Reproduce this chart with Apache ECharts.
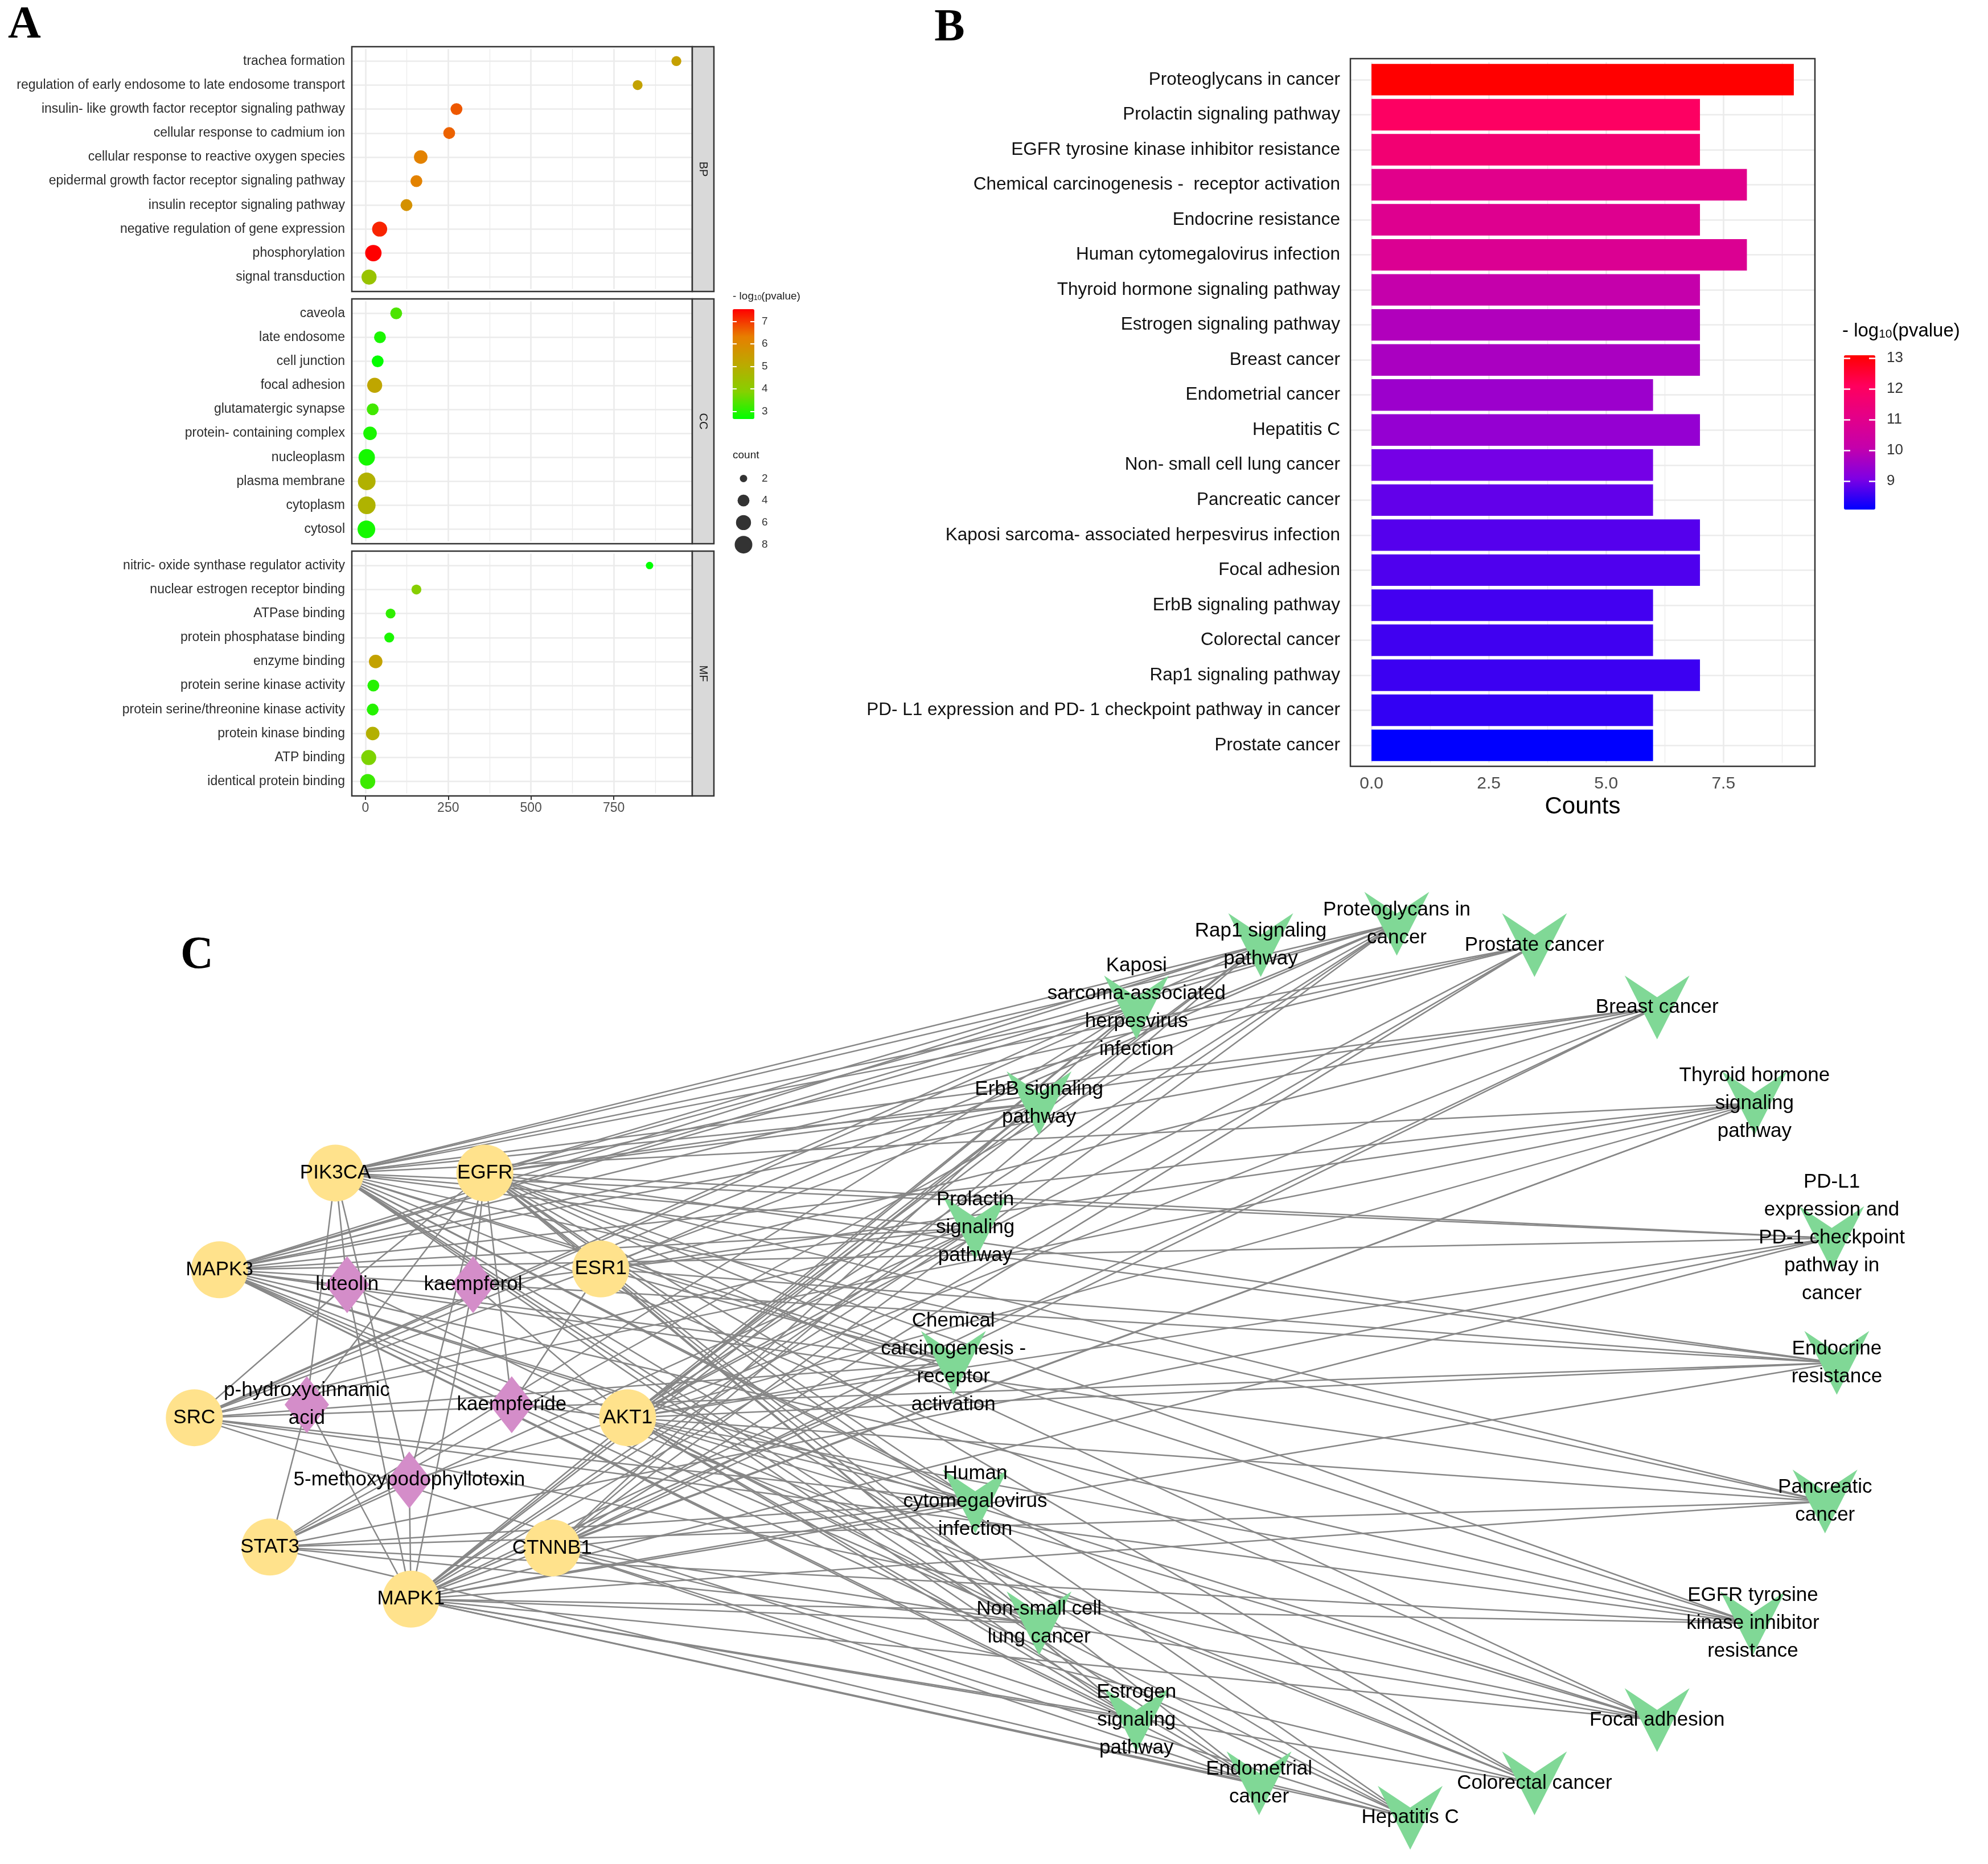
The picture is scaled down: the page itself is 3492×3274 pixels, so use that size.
<!DOCTYPE html>
<html><head><meta charset="utf-8">
<script src="https://cdn.jsdelivr.net/npm/echarts@6/dist/echarts.min.js"></script>
<style>html,body{margin:0;padding:0;background:#fff}#c{width:3492px;height:3274px}</style>
</head><body><div id="c"></div>
<script>
// ---------------- Panel A: GO enrichment ----------------
const bpTerms = ['trachea formation','regulation of early endosome to late endosome transport','insulin- like growth factor receptor signaling pathway','cellular response to cadmium ion','cellular response to reactive oxygen species','epidermal growth factor receptor signaling pathway','insulin receptor signaling pathway','negative regulation of gene expression','phosphorylation','signal transduction'];
const bpFold  = [939, 822, 275, 253, 167, 154, 124, 43, 24, 11];
const bpCount = [3, 3, 4, 4, 5, 4, 4, 6, 7, 6];
const bpLogP  = [5.35, 5.3, 6.7, 6.6, 6.2, 6.2, 5.8, 7.2, 7.55, 4.3];

const ccTerms = ['caveola','late endosome','cell junction','focal adhesion','glutamatergic synapse','protein- containing complex','nucleoplasm','plasma membrane','cytoplasm','cytosol'];
const ccFold  = [93, 44, 37, 28, 22, 14, 4, 4, 4, 3];
const ccCount = [4, 4, 4, 6, 4, 5, 7, 8, 8, 8];
const ccLogP  = [3.35, 2.9, 2.7, 5.2, 3.25, 2.9, 2.85, 4.85, 4.8, 2.85];

const mfTerms = ['nitric- oxide synthase regulator activity','nuclear estrogen receptor binding','ATPase binding','protein phosphatase binding','enzyme binding','protein serine kinase activity','protein serine/threonine kinase activity','protein kinase binding','ATP binding','identical protein binding'];
const mfFold  = [858, 154, 76, 72, 31, 24, 22, 22, 10, 7];
const mfCount = [2, 3, 3, 3, 5, 4, 4, 5, 6, 6];
const mfLogP  = [2.66, 3.9, 3.1, 2.9, 5.3, 3.0, 3.0, 4.9, 3.8, 3.2];

const goTicks = [0, 250, 500, 750];
const goGridLines = [0, 125, 250, 375, 500, 625, 750, 875];
const goLogPTicks = [3, 4, 5, 6, 7];
const countLegend = [2, 4, 6, 8];

// ---------------- Panel B: KEGG enrichment ----------------
const keggTerms = ['Proteoglycans in cancer','Prolactin signaling pathway','EGFR tyrosine kinase inhibitor resistance','Chemical carcinogenesis -  receptor activation','Endocrine resistance','Human cytomegalovirus infection','Thyroid hormone signaling pathway','Estrogen signaling pathway','Breast cancer','Endometrial cancer','Hepatitis C','Non- small cell lung cancer','Pancreatic cancer','Kaposi sarcoma- associated herpesvirus infection','Focal adhesion','ErbB signaling pathway','Colorectal cancer','Rap1 signaling pathway','PD- L1 expression and PD- 1 checkpoint pathway in cancer','Prostate cancer'];
const keggCount = [9, 7, 7, 8, 7, 8, 7, 7, 7, 6, 7, 6, 6, 7, 7, 6, 6, 7, 6, 6];
const keggLogP  = [13.09, 12.0, 11.6, 11.0, 10.9, 10.8, 10.1, 9.8, 9.7, 9.5, 9.4, 9.0, 8.85, 8.75, 8.7, 8.6, 8.58, 8.55, 8.48, 8.07];
const countTicks = [0, 2.5, 5, 7.5];
const countGridLines = [0, 1.25, 2.5, 3.75, 5, 6.25, 7.5, 8.75];
const keggLogPTicks = [9, 10, 11, 12, 13];

// ---------------- Panel C: network ----------------
const targets = ['PIK3CA','EGFR','MAPK3','ESR1','SRC','AKT1','STAT3','CTNNB1','MAPK1'];
const compounds = ['luteolin','kaempferol','p-hydroxycinnamic acid','kaempferide','5-methoxypodophyllotoxin'];
const compoundLabels = ['luteolin','kaempferol','p-hydroxycinnamic\nacid','kaempferide','5-methoxypodophyllotoxin'];
const compoundTargets = [
  ['PIK3CA','MAPK1','SRC','AKT1','EGFR'],
  ['EGFR','MAPK1','AKT1','ESR1'],
  ['PIK3CA','EGFR','STAT3','MAPK1'],
  ['EGFR','ESR1','AKT1'],
  ['PIK3CA','EGFR','MAPK1','AKT1','STAT3']
];
// pathways follow keggTerms order
const pathwayLabels = ['Proteoglycans in\ncancer','Prolactin\nsignaling\npathway','EGFR tyrosine\nkinase inhibitor\nresistance','Chemical\ncarcinogenesis -\nreceptor\nactivation','Endocrine\nresistance','Human\ncytomegalovirus\ninfection','Thyroid hormone\nsignaling\npathway','Estrogen\nsignaling\npathway','Breast cancer','Endometrial\ncancer','Hepatitis C','Non-small cell\nlung cancer','Pancreatic\ncancer','Kaposi\nsarcoma-associated\nherpesvirus\ninfection','Focal adhesion','ErbB signaling\npathway','Colorectal cancer','Rap1 signaling\npathway','PD-L1\nexpression and\nPD-1 checkpoint\npathway in\ncancer','Prostate cancer'];
const pathwayTargets = [
  ['PIK3CA','EGFR','MAPK3','ESR1','SRC','AKT1','STAT3','CTNNB1','MAPK1'],
  ['PIK3CA','MAPK3','ESR1','SRC','AKT1','STAT3','MAPK1'],
  ['PIK3CA','EGFR','MAPK3','SRC','AKT1','STAT3','MAPK1'],
  ['PIK3CA','EGFR','MAPK3','ESR1','SRC','AKT1','CTNNB1','MAPK1'],
  ['PIK3CA','EGFR','MAPK3','ESR1','SRC','AKT1','MAPK1'],
  ['PIK3CA','EGFR','MAPK3','SRC','AKT1','STAT3','CTNNB1','MAPK1'],
  ['PIK3CA','MAPK3','ESR1','SRC','AKT1','CTNNB1','MAPK1'],
  ['PIK3CA','EGFR','MAPK3','ESR1','SRC','AKT1','MAPK1'],
  ['PIK3CA','EGFR','MAPK3','ESR1','AKT1','CTNNB1','MAPK1'],
  ['PIK3CA','EGFR','MAPK3','AKT1','CTNNB1','MAPK1'],
  ['PIK3CA','EGFR','MAPK3','AKT1','STAT3','CTNNB1','MAPK1'],
  ['PIK3CA','EGFR','MAPK3','AKT1','STAT3','MAPK1'],
  ['PIK3CA','EGFR','MAPK3','AKT1','STAT3','MAPK1'],
  ['PIK3CA','MAPK3','SRC','AKT1','STAT3','CTNNB1','MAPK1'],
  ['PIK3CA','EGFR','MAPK3','SRC','AKT1','CTNNB1','MAPK1'],
  ['PIK3CA','EGFR','MAPK3','SRC','AKT1','MAPK1'],
  ['PIK3CA','EGFR','MAPK3','AKT1','CTNNB1','MAPK1'],
  ['PIK3CA','EGFR','MAPK3','SRC','AKT1','CTNNB1','MAPK1'],
  ['PIK3CA','EGFR','MAPK3','AKT1','STAT3','MAPK1'],
  ['PIK3CA','EGFR','MAPK3','AKT1','CTNNB1','MAPK1']
];
// node layout (abstract 0-100 layout units)
const targetLayout = [[9.8,29.4],[18.7,29.4],[2.9,39.8],[25.6,39.7],[1.4,55.7],[27.2,55.7],[5.9,69.6],[22.7,69.7],[14.3,75.2]];
const compoundLayout = [[10.5,41.4],[18.0,41.4],[8.1,54.3],[20.3,54.3],[14.2,62.4]];
const pathwayLayout = [[73.0,2.6],[47.9,35.3],[94.2,77.8],[46.6,49.8],[99.2,49.8],[47.9,64.7],[94.3,21.9],[57.5,88.2],[88.5,11.6],[64.8,95.0],[73.8,98.7],[51.7,77.8],[98.5,64.7],[57.5,11.6],[88.5,88.2],[51.7,21.9],[81.2,95.0],[64.9,4.9],[98.9,36.4],[81.2,4.9]];

// ================= build option =================
const FONT = 'Arial, "Liberation Sans", sans-serif';
const grid = [], xAxis = [], yAxis = [], series = [], graphic = [], visualMap = [];
const addGrid = g => (grid.push(Object.assign({outerBoundsMode:'none', containLabel:false}, g)), grid.length - 1);
const addX = a => (xAxis.push(a), xAxis.length - 1);
const addY = a => (yAxis.push(a), yAxis.length - 1);
const addS = s => (series.push(s), series.length - 1);
const sizeOf = c => Math.sqrt(132 * c - 95);

const gridLineSeries = (xi, yi, xs, majors, cats) => ({
  type:'scatter', xAxisIndex:xi, yAxisIndex:yi, data:[], silent:true, z:1,
  markLine:{ silent:true, z:1, symbol:['none','none'], label:{show:false}, animation:false,
    emphasis:{disabled:true},
    lineStyle:{color:'#ebebeb', width:2.6, type:'solid'},
    data: xs.map(v => ({xAxis:v, lineStyle:{color:'#ebebeb', type:'solid', width: majors.includes(v) ? 2.6 : 1.3}}))
      .concat(cats.map(t => ({yAxis:t, lineStyle:{color:'#ebebeb', type:'solid', width:2.6}})))
  }
});

// ---- Panel A facets ----
const facets = [
  {terms:bpTerms, fold:bpFold, count:bpCount, logp:bpLogP, strip:'BP'},
  {terms:ccTerms, fold:ccFold, count:ccCount, logp:ccLogP, strip:'CC'},
  {terms:mfTerms, fold:mfFold, count:mfCount, logp:mfLogP, strip:'MF'}
];
const PA = {left:618, width:598, tops:[82, 525, 968], h:430, strip:38};
const aSeries = [];
facets.forEach((f, i) => {
  const u = PA.h / 10.2;
  const gi = addGrid({left:PA.left, top:PA.tops[i] + 0.1 * u, width:PA.width, height:10 * u});
  const last = i === facets.length - 1;
  const xi = addX({type:'value', gridIndex:gi, min:-41, max:987, offset:0.1 * u,
    axisLine:{show:false}, splitLine:{show:false},
    axisTick:{show:last, customValues:goTicks, length:7, lineStyle:{color:'#333', width:2}},
    axisLabel:{show:last, customValues:goTicks, fontSize:23, color:'#4d4d4d', margin:10, fontFamily:FONT}});
  const yi = addY({type:'category', gridIndex:gi, data:f.terms, inverse:true,
    axisLine:{show:false}, splitLine:{show:false},
    axisTick:{alignWithLabel:true, length:7, lineStyle:{color:'#333', width:2}},
    axisLabel:{interval:0, fontSize:23, color:'#2b2b2b', margin:12, fontFamily:FONT}});
  aSeries.push(addS({type:'scatter', xAxisIndex:xi, yAxisIndex:yi, z:3,
    data:f.terms.map((t, j) => [f.fold[j], t, f.logp[j], f.count[j]]),
    encode:{x:0, y:1}, symbolSize: v => sizeOf(v[3]), itemStyle:{opacity:1}}));
  addS(gridLineSeries(xi, yi, goGridLines, goTicks, f.terms));
  // panel border + strip
  graphic.push({type:'rect', z:20, silent:true, shape:{x:PA.left, y:PA.tops[i], width:PA.width, height:PA.h},
    style:{fill:'none', stroke:'#333', lineWidth:2.5}});
  graphic.push({type:'rect', z:20, silent:true, shape:{x:PA.left + PA.width, y:PA.tops[i], width:PA.strip, height:PA.h},
    style:{fill:'#d9d9d9', stroke:'#333', lineWidth:2.5}});
  graphic.push({type:'text', z:21, silent:true, x:PA.left + PA.width + PA.strip / 2, y:PA.tops[i] + PA.h / 2, rotation:-Math.PI / 2,
    style:{text:f.strip, x:0, y:0, align:'center', verticalAlign:'middle', textAlign:'center', textVerticalAlign:'middle',
      font:'20px ' + FONT, fill:'#1a1a1a'}});
});

// A colour legend
visualMap.push({type:'continuous', seriesIndex:aSeries, dimension:2, min:2.66, max:7.55,
  left:1287, top:543, itemWidth:38, itemHeight:193, padding:0, calculable:false, show:true,
  inRange:{color:['#00FF00','#86D000','#BCA900','#E77E00','#FF0000']}});
const gAc = addGrid({left:1287, top:543, width:38, height:193});
addX({type:'value', gridIndex:gAc, show:false, min:0, max:1});
addY({type:'value', gridIndex:gAc, min:2.66, max:7.55, position:'left', z:10,
  axisLine:{show:false}, splitLine:{show:false}, axisLabel:{show:false},
  axisTick:{inside:true, length:7, customValues:goLogPTicks, lineStyle:{color:'#fff', width:2}}});
addY({type:'value', gridIndex:gAc, min:2.66, max:7.55, position:'right', z:10,
  axisLine:{show:false}, splitLine:{show:false},
  axisTick:{inside:true, length:7, customValues:goLogPTicks, lineStyle:{color:'#fff', width:2}},
  axisLabel:{customValues:goLogPTicks, fontSize:19, color:'#333', margin:13, fontFamily:FONT}});
graphic.push({type:'text', silent:true, x:1287, y:518,
  style:{text:'{a|- log}{s|10}{a|(pvalue)}', x:0, y:0, verticalAlign:'middle', textVerticalAlign:'middle',
    rich:{a:{fontSize:19, lineHeight:24, fill:'#1a1a1a', fontFamily:FONT, verticalAlign:'bottom'},
          s:{fontSize:12, lineHeight:16, fill:'#1a1a1a', fontFamily:FONT, verticalAlign:'bottom'}}}});

// A size legend
const gAs = addGrid({left:1287, top:821, width:38, height:155});
const xAs = addX({type:'value', gridIndex:gAs, show:false, min:-1, max:1});
const yAs = addY({type:'category', gridIndex:gAs, data:countLegend.map(String), inverse:true, position:'right',
  axisLine:{show:false}, axisTick:{show:false}, splitLine:{show:false},
  axisLabel:{fontSize:19, color:'#333', margin:13, fontFamily:FONT}});
addS({type:'scatter', xAxisIndex:xAs, yAxisIndex:yAs, z:3, data:countLegend.map(c => [0, String(c), c]),
  encode:{x:0, y:1}, symbolSize: v => sizeOf(v[2]), itemStyle:{color:'#000'}});
graphic.push({type:'text', silent:true, x:1287, y:800,
  style:{text:'count', x:0, y:0, verticalAlign:'middle', textVerticalAlign:'middle', font:'19px ' + FONT, fill:'#1a1a1a'}});

// ---- Panel B ----
const PB = {left:2372, top:103, width:816, height:1243};
const bU = PB.height / 20.2;
const gB = addGrid({left:PB.left, top:PB.top + 0.1 * bU, width:PB.width, height:20 * bU});
const xB = addX({type:'value', gridIndex:gB, min:-0.45, max:9.45, offset:0.1 * bU,
  axisLine:{show:false}, splitLine:{show:false},
  axisTick:{customValues:countTicks, length:10, lineStyle:{color:'#333', width:2.5}},
  axisLabel:{customValues:countTicks, fontSize:30, color:'#4d4d4d', margin:16, fontFamily:FONT, formatter: v => v.toFixed(1)},
  name:'Counts', nameLocation:'middle', nameGap:50, nameTextStyle:{fontSize:42, color:'#000', fontFamily:FONT}});
const yB = addY({type:'category', gridIndex:gB, data:keggTerms, inverse:true,
  axisLine:{show:false}, splitLine:{show:false},
  axisTick:{alignWithLabel:true, length:10, lineStyle:{color:'#333', width:2.5}},
  axisLabel:{interval:0, fontSize:31.5, color:'#111', margin:18, fontFamily:FONT}});
const sB = addS({type:'bar', xAxisIndex:xB, yAxisIndex:yB, z:3, barWidth:'90%',
  data:keggTerms.map((t, i) => [keggCount[i], t, keggLogP[i]]), encode:{x:0, y:1}});
addS(gridLineSeries(xB, yB, countGridLines, countTicks, keggTerms));
graphic.push({type:'rect', z:20, silent:true, shape:{x:PB.left, y:PB.top, width:PB.width, height:PB.height},
  style:{fill:'none', stroke:'#333', lineWidth:2.5}});
visualMap.push({type:'continuous', seriesIndex:[sB], dimension:2, min:8.07, max:13.09,
  left:3239, top:624, itemWidth:55, itemHeight:271, padding:0, calculable:false, show:true,
  inRange:{color:['#0000FF','#7E00E4','#C400AC','#E40088','#FF005E','#FF0000']}});
const gBc = addGrid({left:3239, top:624, width:55, height:271});
addX({type:'value', gridIndex:gBc, show:false, min:0, max:1});
addY({type:'value', gridIndex:gBc, min:8.07, max:13.09, position:'left', z:10,
  axisLine:{show:false}, splitLine:{show:false}, axisLabel:{show:false},
  axisTick:{inside:true, length:11, customValues:keggLogPTicks, lineStyle:{color:'#fff', width:2.5}}});
addY({type:'value', gridIndex:gBc, min:8.07, max:13.09, position:'right', z:10,
  axisLine:{show:false}, splitLine:{show:false},
  axisTick:{inside:true, length:11, customValues:keggLogPTicks, lineStyle:{color:'#fff', width:2.5}},
  axisLabel:{customValues:keggLogPTicks, fontSize:26, color:'#333', margin:20, fontFamily:FONT}});
graphic.push({type:'text', silent:true, x:3236, y:578,
  style:{text:'{a|- log}{s|10}{a|(pvalue)}', x:0, y:0, verticalAlign:'middle', textVerticalAlign:'middle',
    rich:{a:{fontSize:33, lineHeight:40, fill:'#000', fontFamily:FONT, verticalAlign:'bottom'},
          s:{fontSize:21, lineHeight:30, fill:'#000', fontFamily:FONT, verticalAlign:'bottom'}}}});

// ---- Panel C network ----
const gC = addGrid({left:300, top:1580, width:2950, height:1634});
const xC = addX({type:'value', gridIndex:gC, min:0, max:100, show:false});
const yC = addY({type:'value', gridIndex:gC, min:0, max:100, inverse:true, show:false});
const nodes = [], links = [];
const idx = {};
targets.forEach((t, i) => { idx[t] = nodes.length; nodes.push({name:t, value:targetLayout[i], symbol:'circle', symbolSize:100,
  itemStyle:{color:'#FFE28C'}, label:{formatter:t}}); });
compounds.forEach((c, i) => { idx[c] = nodes.length; nodes.push({name:c, value:compoundLayout[i], symbol:'diamond', symbolSize:[78,100],
  itemStyle:{color:'#D48DC9'}, label:{formatter:compoundLabels[i]}}); });
keggTerms.forEach((p, i) => { idx[p] = nodes.length; nodes.push({name:p, value:pathwayLayout[i],
  symbol:'path://M0,0L57,38L114,0L57,112Z', symbolSize:[114,112],
  itemStyle:{color:'#80D896'}, label:{formatter:pathwayLabels[i]}}); });
compounds.forEach((c, i) => compoundTargets[i].forEach(t => links.push({source:idx[c], target:idx[t]})));
keggTerms.forEach((p, i) => pathwayTargets[i].forEach(t => links.push({source:idx[t], target:idx[p]})));
addS({type:'graph', layout:'none', coordinateSystem:'cartesian2d', xAxisIndex:xC, yAxisIndex:yC, z:4,
  silent:true, emphasis:{disabled:true},
  data:nodes, links:links,
  lineStyle:{color:'#878787', width:2.5, opacity:1, curveness:0},
  label:{show:true, position:'inside', color:'#000', fontSize:35, lineHeight:49, fontFamily:FONT}});

// ---- panel letters ----
[['A', 43, 45], ['B', 1668, 50], ['C', 346, 1679]].forEach(([t, x, y]) => graphic.push({type:'text', silent:true, x:x, y:y,
  style:{text:t, x:0, y:0, align:'center', verticalAlign:'middle', textAlign:'center', textVerticalAlign:'middle',
    font:'bold 80px "Times New Roman", "Liberation Serif", serif', fill:'#000'}}));

const chart = echarts.init(document.getElementById('c'), null, {renderer:'canvas', width:3492, height:3274});
chart.setOption({
  animation:false, backgroundColor:'#ffffff',
  textStyle:{fontFamily:FONT},
  grid, xAxis, yAxis, series, visualMap, graphic
});
</script></body></html>
